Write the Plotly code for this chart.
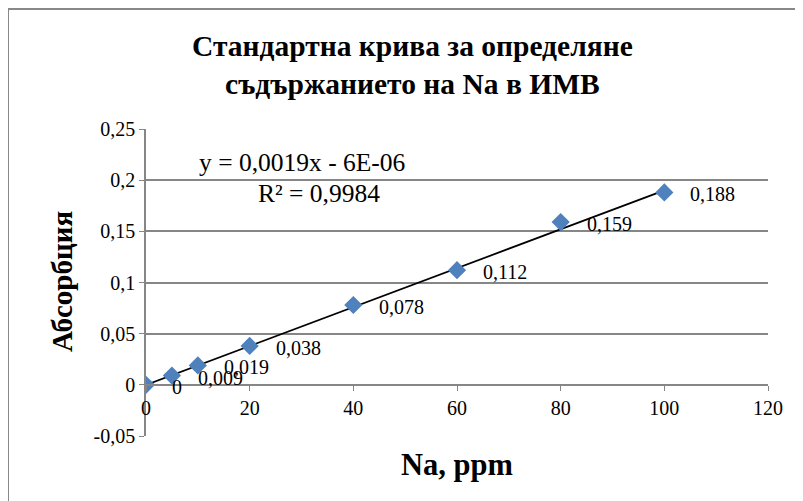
import plotly.graph_objects as go

# Data
na_ppm = [0, 5, 10, 20, 40, 60, 80, 100]
absorbance = [0, 0.009, 0.019, 0.038, 0.078, 0.112, 0.159, 0.188]
data_labels = ["0", "0,009", "0,019", "0,038", "0,078", "0,112", "0,159", "0,188"]
trend_slope = 0.0019
trend_intercept = -6e-06
trend_x = [0, 100]
y_tickvals = [-0.05, 0, 0.05, 0.1, 0.15, 0.2, 0.25]
y_ticktext = ["-0,05", "0", "0,05", "0,1", "0,15", "0,2", "0,25"]
x_tickvals = [0, 20, 40, 60, 80, 100, 120]

title_lines = ["Стандартна крива за определяне", "съдържанието на Na в ИМВ"]
x_title = "Na, ppm"
y_title = "Абсорбция"
eq_text = "y = 0,0019x - 6E-06"
r2_text = "R² = 0,9984"

FONT = "Liberation Serif"
GRID = "#868686"

OFF = 8  # default page body margin
PAGE_W, PAGE_H = 803, 501
W, H = PAGE_W - OFF, PAGE_H - OFF
# plot area in page pixels
PL, PR, PT, PB = 146, 768, 129, 436
ml, mt = PL - OFF, PT - OFF
mr, mb = W - (PR - OFF), H - (PB - OFF)
pw = PR - PL
ph = PB - PT

def px_to_paper(px, py):
    return (px - PL) / pw, (PB - py) / ph

fig = go.Figure()

trend_y = [trend_slope * x + trend_intercept for x in trend_x]
fig.add_trace(go.Scatter(x=trend_x, y=trend_y, mode="lines",
                         line=dict(color="black", width=1.75),
                         hoverinfo="skip", showlegend=False))
fig.add_trace(go.Scatter(x=na_ppm, y=absorbance, mode="markers",
                         marker=dict(symbol="diamond", size=14, color="#4F81BD",
                                     line=dict(width=0)),
                         showlegend=False))

annotations = []
for xv, yv, t in zip(na_ppm, absorbance, data_labels):
    annotations.append(dict(x=xv, y=yv, xref="x", yref="y", text=t, showarrow=False,
                            xanchor="left", yanchor="middle", xshift=24, yshift=-2,
                            font=dict(family=FONT, size=20, color="black")))

tx, ty = px_to_paper(412, 65)
annotations.append(dict(x=tx, y=ty, xref="paper", yref="paper",
                        text="<br>".join("<b>" + s + "</b>" for s in title_lines),
                        showarrow=False, xanchor="center", yanchor="middle",
                        font=dict(family=FONT, size=29.5, color="black")))
ax_x, ax_y = px_to_paper(457, 465)
annotations.append(dict(x=ax_x, y=ax_y, xref="paper", yref="paper", text="<b>" + x_title + "</b>",
                        showarrow=False, xanchor="center", yanchor="middle",
                        font=dict(family=FONT, size=30.5, color="black")))
ay_x, ay_y = px_to_paper(62, 282)
annotations.append(dict(x=ay_x, y=ay_y, xref="paper", yref="paper", text="<b>" + y_title + "</b>",
                        showarrow=False, xanchor="center", yanchor="middle", textangle=-90,
                        font=dict(family=FONT, size=29, color="black")))
e1x, e1y = px_to_paper(302, 162)
annotations.append(dict(x=e1x, y=e1y, xref="paper", yref="paper", text=eq_text,
                        showarrow=False, xanchor="center", yanchor="middle",
                        font=dict(family=FONT, size=25.5, color="black")))
e2x, e2y = px_to_paper(319, 193)
annotations.append(dict(x=e2x, y=e2y, xref="paper", yref="paper", text=r2_text,
                        showarrow=False, xanchor="center", yanchor="middle",
                        font=dict(family=FONT, size=25.5, color="black")))

zero_pos = (0 - (-0.05)) / 0.30

bx0, by0 = px_to_paper(8, 9)
bx1, by1 = px_to_paper(PAGE_W + 10, PAGE_H + 10)

fig.update_layout(
    width=W, height=H,
    margin=dict(l=ml, r=mr, t=mt, b=mb, pad=0),
    paper_bgcolor="white", plot_bgcolor="white",
    separators=", ",
    annotations=annotations,
    shapes=[
        dict(type="line", xref="paper", yref="paper",
             x0=bx0, x1=bx1, y0=by0, y1=by0,
             line=dict(color="#888888", width=2)),
        dict(type="line", xref="paper", yref="paper",
             x0=bx0, x1=bx0, y0=by0, y1=by1,
             line=dict(color="#888888", width=2)),
    ],
    xaxis=dict(range=[0, 120], tickvals=x_tickvals, showgrid=False, zeroline=False,
               showline=True, linecolor=GRID, linewidth=1.5,
               ticks="outside", ticklen=5, tickcolor=GRID,
               anchor="free", position=zero_pos,
               tickfont=dict(family=FONT, size=20, color="black")),
    yaxis=dict(range=[-0.05, 0.25], tickvals=y_tickvals, ticktext=y_ticktext,
               showgrid=True, gridcolor=GRID, gridwidth=1.5, zeroline=False,
               showline=True, linecolor=GRID, linewidth=1.5,
               ticks="outside", ticklen=5, tickcolor=GRID,
               tickfont=dict(family=FONT, size=20, color="black")),
)

fig.write_html("out.html")
